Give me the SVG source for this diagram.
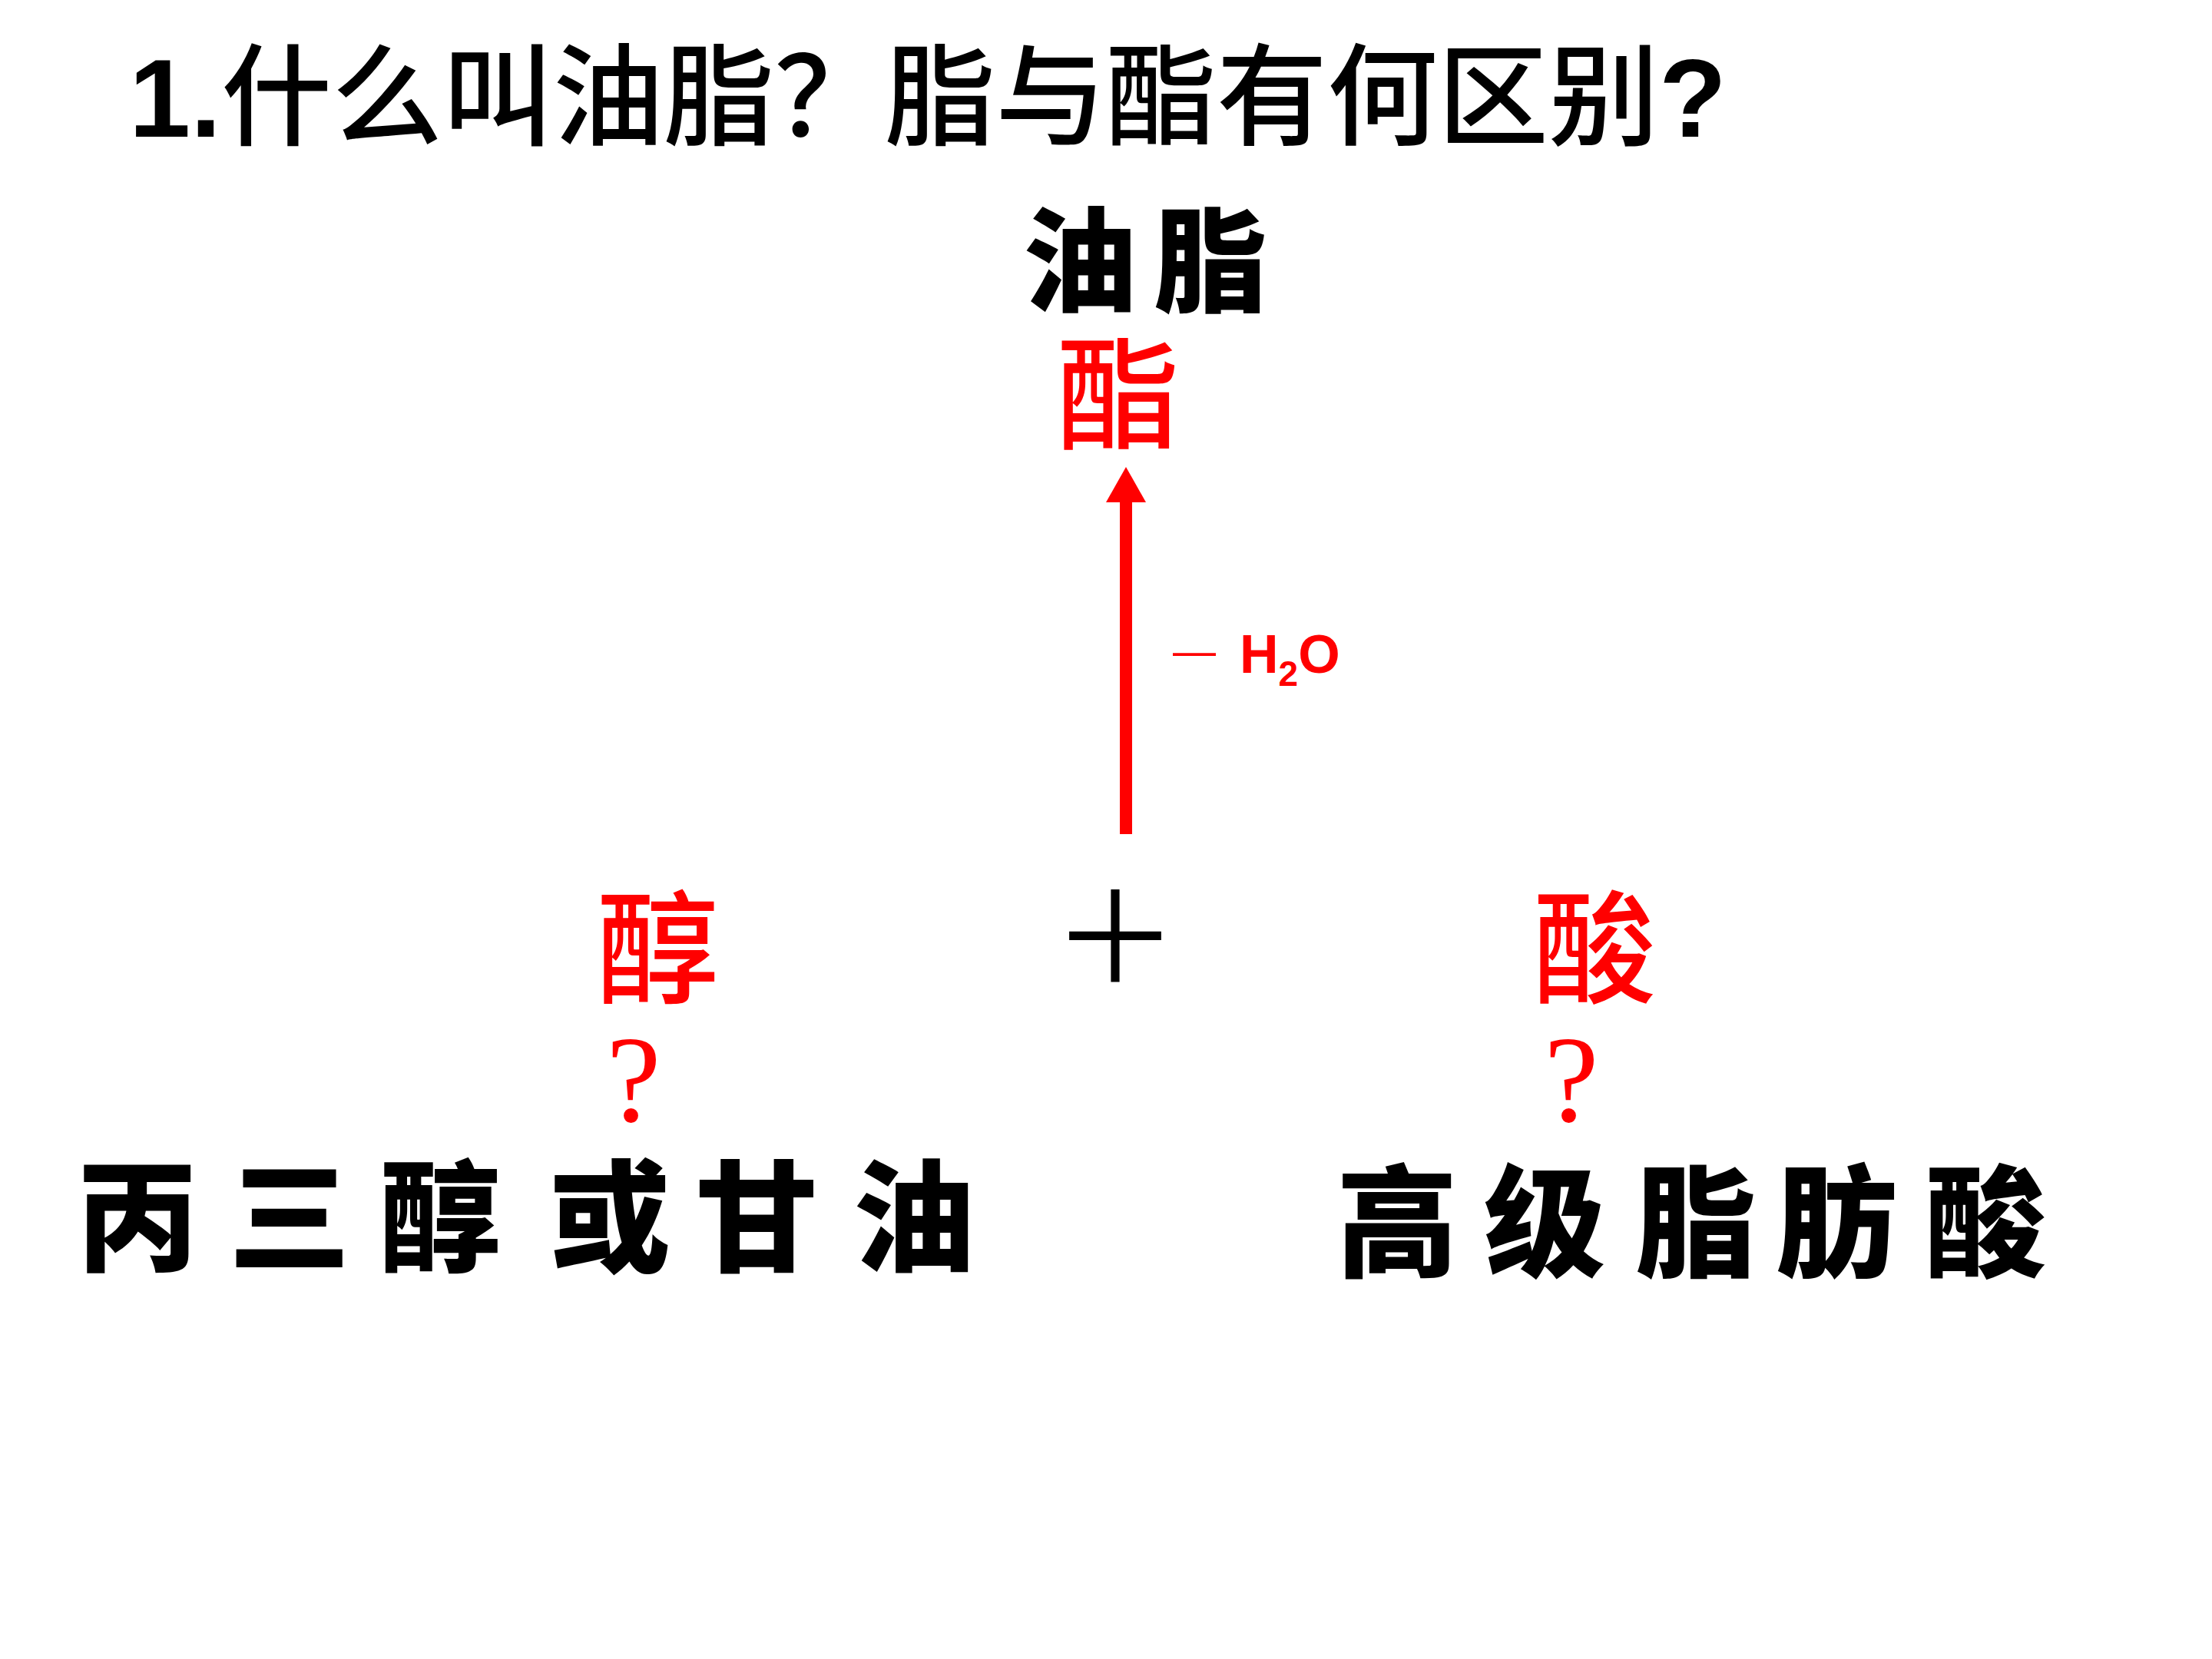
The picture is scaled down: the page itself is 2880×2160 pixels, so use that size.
<svg xmlns="http://www.w3.org/2000/svg" width="2880" height="2160" viewBox="0 0 2880 2160">
<style>
.cjk{font-family:"Noto Sans CJK SC","Noto Sans",sans-serif}
.lat{font-family:"Liberation Sans",Arial,sans-serif;font-weight:700}
.red{fill:#ff0000}
.blk{fill:#000000}
.brush{font-family:"Noto Sans CJK SC",sans-serif;font-weight:900;fill:#000000;text-anchor:middle}
.hei{font-family:"Noto Sans CJK SC",sans-serif;font-weight:500;fill:#ff0000;text-anchor:middle}
.qm{font-family:"Liberation Serif","Times New Roman",serif;fill:#ff0000;text-anchor:middle}
</style>
<defs>
<marker id="ah" viewBox="0 -26 46 52" refX="2" refY="0" markerWidth="46" markerHeight="52" markerUnits="userSpaceOnUse" orient="auto">
<path d="M0,-26 L46,0 L0,26 Z" fill="#ff0000"/>
</marker>
</defs>
<rect x="0" y="0" width="2880" height="2160" fill="#ffffff"/>

<g id="title">
<text x="168" y="178" font-size="144" class="blk"><tspan class="lat">1.</tspan><tspan class="cjk" font-weight="500">什么叫油脂？脂与酯有何区别</tspan><tspan class="lat">?</tspan></text>
</g>

<g id="connectors">
<line x1="1466" y1="1086" x2="1466" y2="652" stroke="#ff0000" stroke-width="16" marker-end="url(#ah)"/>
</g>

<g id="node-youzhi">
<text class="brush" font-size="148" x="1406 1576" y="394">油脂</text>
</g>

<g id="node-zhi">
<text class="hei" font-size="160" x="1456" y="573">酯</text>
</g>

<g id="label-h2o">
<text class="red" font-family="Liberation Sans,Arial,sans-serif" font-size="56" x="1527" y="866">—</text>
<text class="lat red" font-size="70" x="1614" y="876">H<tspan font-size="46" dy="17">2</tspan><tspan dy="-17">O</tspan></text>
</g>

<g id="node-plus">
<text class="cjk blk" font-size="165" font-weight="400" x="1452" y="1280" text-anchor="middle">＋</text>
</g>

<g id="node-chun">
<text class="hei" font-size="160" x="856" y="1294">醇</text>
</g>

<g id="node-suan">
<text class="hei" font-size="160" x="2076" y="1294">酸</text>
</g>

<g id="q-left">
<text class="qm" font-size="160" x="825" y="1460">?</text>
</g>

<g id="q-right">
<text class="qm" font-size="160" x="2046" y="1460">?</text>
</g>

<g id="node-glycerol">
<text class="brush" font-size="158" x="179 377 573 794 985 1190" y="1643">丙三醇或甘油</text>
</g>

<g id="node-fattyacid">
<text class="brush" font-size="158" x="1819 2011 2208 2391 2585" y="1650">高级脂肪酸</text>
</g>
</svg>
